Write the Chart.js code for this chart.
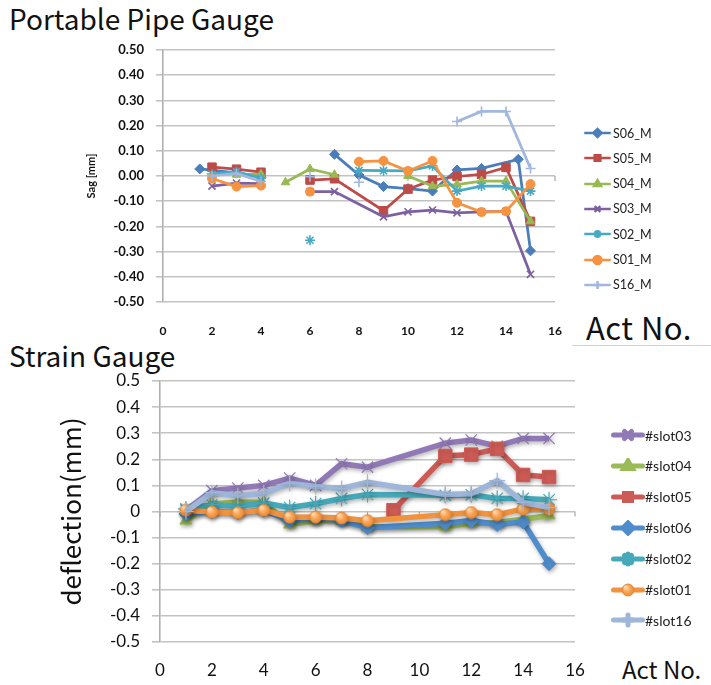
<!DOCTYPE html>
<html>
<head>
<meta charset="utf-8">
<script src="https://cdn.jsdelivr.net/npm/chart.js@4.4.0/dist/chart.umd.min.js"></script>
<style>
  body { margin: 0; background: #fff; width: 711px; height: 685px; overflow: hidden; position: relative; }
  .heading { position: absolute; font-family: "Noto Sans CJK JP", "Noto Sans", sans-serif; color: #111; white-space: nowrap; line-height: 1; }
  .box { position: absolute; left: 0; }
  .legend-item { position: absolute; display: flex; align-items: center; white-space: nowrap; font-family: Lato, "Liberation Sans", sans-serif; color: #222; }
  .legend-item canvas { display: block; }
  .rule { position: absolute; left: 572px; top: 345px; width: 139px; height: 1px; background: #d4d4d4; }
</style>
</head>
<body>
<div class="heading" style="left:9px;top:4px;font-size:28px;">Portable Pipe Gauge</div>
<div class="heading" style="left:586px;top:311px;font-size:31px;letter-spacing:0.5px;">Act No.</div>
<div class="rule"></div>
<div class="heading" style="left:9px;top:341px;font-size:28px;">Strain Gauge</div>
<div class="heading" style="left:622px;top:657px;font-size:24px;">Act No.</div>

<div class="box" style="top:0;"><canvas id="pipe" width="711" height="345"></canvas></div>
<div class="box" style="top:345px;"><canvas id="strain" width="711" height="340"></canvas></div>
<div id="pipeLegend"></div>
<div id="strainLegend"></div>

<script>
// portable pipe gauge sag [mm] by act number; null leaves a gap in the line
const s06M = [[1.5, 0.028], [3, 0.012], [4, -0.005], [5, null], [7, 0.086], [8, 0.004], [9, -0.042], [10, -0.05], [11, -0.06], [12, 0.024], [13, 0.03], [14.5, 0.066], [15, -0.297]];
const s05M = [[2, 0.035], [3, 0.027], [4, 0.015], [5, null], [6, -0.016], [7, -0.011], [9, -0.138], [10, -0.052], [11, -0.016], [12, -0.002], [13, 0.006], [14, 0.034], [15, -0.18]];
const s04M = [[3, 0.005], [4, 0.007], [4.5, null], [5, -0.025], [6, 0.028], [7, 0.005], [8, null], [10, 0.0], [11, -0.04], [12, -0.034], [13, -0.02], [14, -0.02], [15, -0.18]];
const s03M = [[2, -0.04], [3, -0.028], [4, -0.03], [5, null], [6, -0.062], [7, -0.062], [9, -0.162], [10, -0.142], [11, -0.135], [12, -0.146], [13, -0.142], [14, -0.14], [15, -0.39]];
const s02M = [[2, 0.008], [3, 0.017], [4, -0.008], [5, null], [6, -0.255], [7, null], [8, 0.022], [9, 0.021], [10, 0.02], [11, 0.04], [12, -0.06], [13, -0.04], [14, -0.04], [15, -0.06]];
const s01M = [[2, -0.01], [3, -0.042], [4, -0.038], [5, null], [6, -0.062], [7, null], [8, 0.057], [9, 0.06], [10, 0.02], [11, 0.06], [12, -0.106], [13, -0.143], [14, -0.14], [15, -0.032]];
const s16M = [[2, 0.0], [3, 0.01], [4, -0.022], [5, null], [6, -0.003], [7, null], [8, -0.025], [10, null], [12, 0.216], [13, 0.256], [14, 0.256], [15, 0.03]];

const pipeNames = ['S06_M', 'S05_M', 'S04_M', 'S03_M', 'S02_M', 'S01_M', 'S16_M'];
const pipeSeries = [s06M, s05M, s04M, s03M, s02M, s01M, s16M];

// strain gauge deflection (mm) by act number
const slot03 = [[1, 0.005], [2, 0.08], [3, 0.09], [4, 0.1], [5, 0.128], [6, 0.1], [7, 0.183], [8, 0.17], [11, 0.262], [12, 0.274], [13, 0.25], [14, 0.28], [15, 0.28]];
const slot04 = [[1, -0.035], [2, 0.03], [3, 0.035], [4, 0.035], [5, -0.05], [6, -0.035], [7, -0.035], [8, -0.058], [11, -0.058], [12, -0.045], [13, -0.042], [14, -0.03], [15, -0.015]];
const slot05 = [[9, 0.005], [11, 0.213], [12, 0.218], [13, 0.24], [14, 0.14], [15, 0.132]];
const slot06 = [[1, -0.01], [2, 0.0], [3, -0.005], [4, 0.005], [5, -0.035], [6, -0.025], [7, -0.035], [8, -0.062], [11, -0.045], [12, -0.035], [13, -0.05], [14, -0.04], [15, -0.2]];
const slot02 = [[1, 0.01], [2, 0.026], [3, 0.02], [4, 0.032], [5, 0.015], [6, 0.03], [7, 0.05], [8, 0.065], [11, 0.062], [12, 0.064], [13, 0.05], [14, 0.05], [15, 0.045]];
const slot01 = [[1, 0.005], [2, -0.002], [3, -0.005], [4, 0.005], [5, -0.022], [6, -0.021], [7, -0.025], [8, -0.035], [11, -0.012], [12, -0.004], [13, -0.012], [14, 0.01], [15, 0.01]];
const slot16 = [[1, 0.0], [2, 0.072], [3, 0.06], [4, 0.07], [5, 0.108], [6, 0.096], [7, 0.088], [8, 0.112], [11, 0.065], [12, 0.068], [13, 0.118], [14, 0.035], [15, 0.015]];

const strainNames = ['#slot03', '#slot04', '#slot05', '#slot06', '#slot02', '#slot01', '#slot16'];
const strainSeries = [slot03, slot04, slot05, slot06, slot02, slot01, slot16];

const actTicks = [0, 2, 4, 6, 8, 10, 12, 14, 16];

const tickFont = 'Lato, "Liberation Sans", sans-serif';

// shaded orange ball used as the #slot01 marker
function ball(r) {
  const c = document.createElement('canvas');
  c.width = c.height = 2 * r + 2;
  const g = c.getContext('2d');
  const grad = g.createRadialGradient(r - r * 0.25, r - r * 0.35, 1, r + 1, r + 1, r);
  grad.addColorStop(0, '#fdd7ad');
  grad.addColorStop(0.55, '#f8a352');
  grad.addColorStop(1, '#ec8a33');
  g.fillStyle = grad;
  g.beginPath();
  g.arc(r + 1, r + 1, r, 0, Math.PI * 2);
  g.fill();
  g.strokeStyle = '#e6893a';
  g.lineWidth = 1;
  g.stroke();
  return c;
}

const pipeStyle = [
  { color: '#4a7ebb', point: 'rectRot', r: 5 },
  { color: '#be4b48', point: 'rect', r: 6 },
  { color: '#98b954', point: 'triangle', r: 5 },
  { color: '#7d60a0', point: 'crossRot', r: 5 },
  { color: '#46aac5', point: 'star', r: 5 },
  { color: '#f69240', point: 'circle', r: 4.5 },
  { color: '#a2b7de', point: 'cross', r: 5 }
];

const strainStyle = [
  { color: '#9079b6', point: 'crossRot', r: 8 },
  { color: '#9bbb59', point: 'triangle', r: 7 },
  { color: '#cd5b55', point: 'rect', r: 9.5 },
  { color: '#4f8ccb', point: 'rectRot', r: 7 },
  { color: '#45a9b9', point: 'star', r: 8 },
  { color: '#f0923e', point: ball(6), r: 6 },
  { color: '#9eb6d9', point: 'cross', r: 8 }
];

// little tick marks hanging under the zero line, every 2 acts
const zeroTicks = {
  id: 'zeroTicks',
  beforeDatasetsDraw(chart, args, opts) {
    const { ctx, scales: { x, y } } = chart;
    const y0 = y.getPixelForValue(0);
    ctx.save();
    ctx.strokeStyle = '#a8a8a8';
    ctx.lineWidth = 1.2;
    actTicks.forEach(v => {
      const px = x.getPixelForValue(v);
      ctx.beginPath();
      ctx.moveTo(px, y0);
      ctx.lineTo(px, y0 + opts.len);
      ctx.stroke();
    });
    ctx.restore();
  }
};

// soft drop shadow under the strain gauge lines
const lineShadow = {
  id: 'lineShadow',
  beforeDatasetDraw(chart) {
    const c = chart.ctx;
    c.save();
    c.shadowColor = 'rgba(0,0,0,0.3)';
    c.shadowBlur = 4;
    c.shadowOffsetX = 1;
    c.shadowOffsetY = 2;
  },
  afterDatasetDraw(chart) {
    chart.ctx.restore();
  }
};

function makeDatasets(names, series, style, lineWidth, markBorder) {
  return names.map((name, i) => ({
    label: name,
    data: series[i].map(([x, y]) => ({ x, y })),
    borderColor: style[i].color,
    backgroundColor: style[i].color,
    borderWidth: lineWidth,
    pointStyle: style[i].point,
    pointRadius: style[i].r,
    pointBorderColor: style[i].color,
    pointBackgroundColor: style[i].color,
    pointBorderWidth: ['crossRot', 'cross', 'star'].includes(style[i].point) ? markBorder : 1,
    tension: 0,
    spanGaps: false,
    order: names.length - i
  }));
}

function makeChart(id, cfg) {
  return new Chart(document.getElementById(id), {
    type: 'line',
    data: { datasets: cfg.datasets },
    options: {
      responsive: false,
      animation: false,
      devicePixelRatio: 1,
      layout: { padding: cfg.padding },
      plugins: {
        legend: { display: false },
        tooltip: { enabled: false },
        zeroTicks: { len: 5 }
      },
      scales: {
        x: {
          type: 'linear',
          min: 0,
          max: 16,
          afterBuildTicks: s => { s.ticks = actTicks.map(v => ({ value: v })); },
          grid: { display: false },
          border: { display: false },
          ticks: { padding: cfg.xPad, color: '#111', font: { family: tickFont, size: cfg.xSize, weight: cfg.xWeight } },
          afterFit: s => { s.height = cfg.xHeight; }
        },
        y: {
          min: -0.5,
          max: 0.5,
          ticks: {
            stepSize: 0.1,
            padding: cfg.yPad,
            color: '#111',
            font: { family: tickFont, size: cfg.ySize, weight: cfg.yWeight },
            callback: cfg.yFormat
          },
          grid: { color: '#c3c3c3', lineWidth: 1.6, tickLength: cfg.tickLen },
          border: { color: '#b0b0b0', width: 1.6 },
          title: {
            display: true,
            text: cfg.yTitle,
            color: '#111',
            padding: { top: cfg.titlePad, bottom: 0 },
            font: { family: cfg.titleFont, size: cfg.titleSize, weight: cfg.titleWeight }
          },
          afterFit: s => { s.width = cfg.yWidth; }
        }
      }
    },
    plugins: cfg.plugins
  });
}

makeChart('pipe', {
  datasets: makeDatasets(pipeNames, pipeSeries, pipeStyle, 2.75, 1.6),
  padding: { top: 50, right: 156, left: 0, bottom: 0 },
  xPad: 14, xSize: 12, xWeight: 'bold', xHeight: 43,
  yPad: 12, ySize: 13, yWeight: 'bold', tickLen: 7, yWidth: 163,
  yFormat: v => v.toFixed(2),
  yTitle: 'Sag [mm]', titlePad: 85, titleFont: tickFont, titleSize: 11, titleWeight: 'bold',
  plugins: [zeroTicks]
});

makeChart('strain', {
  datasets: makeDatasets(strainNames, strainSeries, strainStyle, 5.5, 1.2),
  padding: { top: 36, right: 136, left: 0, bottom: 0 },
  xPad: 10, xSize: 17, xWeight: 'normal', xHeight: 43,
  yPad: 12, ySize: 17, yWeight: 'normal', tickLen: 8, yWidth: 160,
  yFormat: v => (Math.abs(v) < 1e-9 ? '0' : String(Math.round(v * 10) / 10)),
  yTitle: 'deflection(mm)', titlePad: 56, titleFont: '"Noto Sans CJK JP", "Noto Sans", sans-serif', titleSize: 26, titleWeight: 'normal',
  plugins: [zeroTicks, lineShadow]
});

// legends: a short line with the series marker, then the name
function buildLegend(holder, names, style, o) {
  const el = document.getElementById(holder);
  names.forEach((name, i) => {
    const item = document.createElement('div');
    item.className = 'legend-item';
    item.style.left = o.left + 'px';
    item.style.top = (o.top + i * o.step - o.h / 2) + 'px';
    item.style.fontSize = o.fontSize + 'px';
    item.style.height = o.h + 'px';
    const c = document.createElement('canvas');
    c.width = o.w;
    c.height = o.h;
    const g = c.getContext('2d');
    g.strokeStyle = style[i].color;
    g.lineWidth = o.lw;
    g.lineCap = o.cap;
    g.beginPath();
    g.moveTo(o.lw / 2, o.h / 2);
    g.lineTo(o.w - o.lw / 2, o.h / 2);
    g.stroke();
    g.fillStyle = style[i].color;
    g.strokeStyle = style[i].color;
    Chart.helpers.drawPoint(g, {
      pointStyle: style[i].point,
      radius: o.r,
      rotation: 0,
      borderWidth: ['crossRot', 'cross', 'star'].includes(style[i].point) ? 1.2 : 1
    }, o.w / 2, o.h / 2);
    const t = document.createElement('span');
    t.textContent = name;
    t.style.marginLeft = o.gap + 'px';
    item.appendChild(c);
    item.appendChild(t);
    el.appendChild(item);
  });
}

buildLegend('pipeLegend', pipeNames, pipeStyle, { left: 583, top: 133, step: 25.3, w: 29, h: 14, lw: 2.5, r: 4, cap: 'butt', fontSize: 12.5, gap: 1 });
buildLegend('strainLegend', strainNames, strainStyle, { left: 611, top: 435, step: 30.9, w: 34, h: 16, lw: 5, r: 5, cap: 'round', fontSize: 14, gap: 0 });
</script>
</body>
</html>
